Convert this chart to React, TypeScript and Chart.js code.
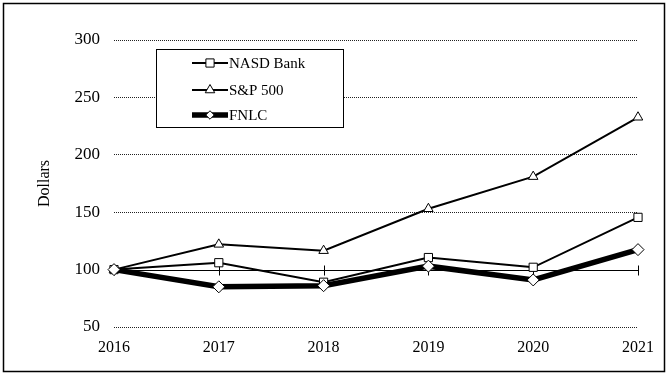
import React, { useEffect, useRef } from "react";
import { Chart, registerables } from "chart.js";

Chart.register(...registerables);

const years = ["2016", "2017", "2018", "2019", "2020", "2021"];
const nasdBank = [100, 106, 89, 110.5, 102, 145.5];
const sp500 = [100, 122, 116.5, 153, 181, 232.7];
const fnlc = [100, 85, 86, 103, 91, 117.4];
const seriesNames = ["NASD Bank", "S&P 500", "FNLC"];
const yTicks = [50, 100, 150, 200, 250, 300];
const yTitle = "Dollars";

const FONT = '"Liberation Serif", "Times New Roman", serif';

function drawMarker(ctx: CanvasRenderingContext2D, style: string, x: number, y: number, r: number) {
  ctx.beginPath();
  if (style === "rect") {
    const s = Math.SQRT1_2 * r;
    ctx.rect(x - s, y - s, 2 * s, 2 * s);
  } else if (style === "triangle") {
    for (let i = 0; i < 3; i++) {
      const a = (i * 2 * Math.PI) / 3;
      const px = x + Math.sin(a) * r;
      const py = y - Math.cos(a) * r;
      if (i === 0) ctx.moveTo(px, py);
      else ctx.lineTo(px, py);
    }
    ctx.closePath();
  } else {
    const s = Math.SQRT1_2 * r;
    ctx.moveTo(x - s, y);
    ctx.lineTo(x, y + s);
    ctx.lineTo(x + s, y);
    ctx.lineTo(x, y - s);
    ctx.closePath();
  }
  ctx.fillStyle = "#fff";
  ctx.fill();
  ctx.strokeStyle = "#000";
  ctx.lineWidth = 1;
  ctx.stroke();
}

const framePlugin = {
  id: "frame",
  beforeDraw(chart: any) {
    const ctx = chart.ctx;
    ctx.save();
    ctx.fillStyle = "#fff";
    ctx.fillRect(0, 0, chart.width, chart.height);
    ctx.restore();
  },
  beforeDatasetsDraw(chart: any) {
    const ctx = chart.ctx;
    const { left, right } = chart.chartArea;
    const yScale = chart.scales.y;
    const xScale = chart.scales.x;
    const y = Math.round(yScale.getPixelForValue(100)) + 0.5;
    ctx.save();
    ctx.strokeStyle = "#000";
    ctx.lineWidth = 1;
    ctx.beginPath();
    ctx.moveTo(left, y);
    ctx.lineTo(right, y);
    for (let i = 0; i < years.length; i++) {
      const x = Math.round(xScale.getPixelForValue(i)) + 0.5;
      ctx.moveTo(x, y - 5);
      ctx.lineTo(x, y + 5);
    }
    ctx.stroke();
    ctx.restore();
  },
  afterDraw(chart: any) {
    const ctx = chart.ctx;
    ctx.save();
    // legend box
    ctx.fillStyle = "#fff";
    ctx.fillRect(156, 49, 187, 78);
    ctx.strokeStyle = "#000";
    ctx.lineWidth = 1;
    ctx.strokeRect(156.5, 49.5, 187, 78);
    const rows = [63, 90, 115];
    chart.data.datasets.forEach((ds: any, i: number) => {
      const ry = rows[i];
      ctx.strokeStyle = "#000";
      ctx.lineWidth = ds.borderWidth;
      ctx.lineCap = "butt";
      ctx.beginPath();
      ctx.moveTo(192, ry);
      ctx.lineTo(228, ry);
      ctx.stroke();
      drawMarker(ctx, ds.pointStyle, 210, ry, ds.pointRadius);
      ctx.fillStyle = "#000";
      ctx.font = `15px ${FONT}`;
      ctx.textBaseline = "middle";
      ctx.textAlign = "left";
      ctx.fillText(ds.label, 229, ry + 1);
    });
    // outer border
    ctx.strokeStyle = "#000";
    ctx.lineWidth = 1.5;
    ctx.strokeRect(3.5, 3.5, 661, 368);
    ctx.restore();
  },
};

export default function App() {
  const ref = useRef<HTMLCanvasElement>(null);
  useEffect(() => {
    if (!ref.current) return;
    const chart = new Chart(ref.current, {
      type: "line",
      data: {
        labels: years,
        datasets: [
          {
            label: seriesNames[0],
            data: nasdBank,
            borderColor: "#000",
            borderWidth: 2,
            pointStyle: "rect",
            pointRadius: 5.8,
            pointBackgroundColor: "#fff",
            pointBorderColor: "#000",
            pointBorderWidth: 1,
            tension: 0,
            order: 3,
          },
          {
            label: seriesNames[1],
            data: sp500,
            borderColor: "#000",
            borderWidth: 2,
            pointStyle: "triangle",
            pointRadius: 5.5,
            pointBackgroundColor: "#fff",
            pointBorderColor: "#000",
            pointBorderWidth: 1,
            tension: 0,
            order: 2,
          },
          {
            label: seriesNames[2],
            data: fnlc,
            borderColor: "#000",
            borderWidth: 5.5,
            pointStyle: "rectRot",
            pointRadius: 6,
            pointBackgroundColor: "#fff",
            pointBorderColor: "#000",
            pointBorderWidth: 1,
            tension: 0,
            order: 1,
          },
        ] as any,
      },
      options: {
        responsive: false,
        animation: false,
        devicePixelRatio: 1,
        layout: { padding: { left: 0, right: 32, top: 40, bottom: 0 } },
        plugins: {
          legend: { display: false },
          tooltip: { enabled: false },
        },
        scales: {
          x: {
            type: "category",
            offset: false,
            grid: { display: false, drawTicks: false },
            border: { display: false },
            ticks: {
              font: { family: FONT, size: 16 },
              color: "#000",
              padding: 11,
              maxRotation: 0,
              autoSkip: false,
            },
            afterFit: (s: any) => {
              s.height = 50;
            },
          },
          y: {
            min: yTicks[0],
            max: yTicks[yTicks.length - 1],
            afterBuildTicks: (s: any) => {
              s.ticks = yTicks.map((v) => ({ value: v }));
            },
            ticks: {
              font: { family: FONT, size: 17 },
              color: "#000",
              padding: 14,
            },
            grid: {
              color: (c: any) => (c.tick && c.tick.value === 100 ? "rgba(0,0,0,0)" : "#222"),
              lineWidth: 1,
              drawTicks: false,
            },
            border: { display: false, dash: [1, 1] },
            title: {
              display: true,
              text: yTitle,
              font: { family: FONT, size: 16 },
              color: "#000",
              padding: { top: 35, bottom: 0 },
            },
            afterFit: (s: any) => {
              s.width = 114;
            },
          },
        },
      } as any,
      plugins: [framePlugin],
    });
    return () => chart.destroy();
  }, []);
  return (
    <div style={{ position: "fixed", left: 0, top: 0, width: 670, height: 377, background: "#fff" }}>
      <canvas ref={ref} width={670} height={377} style={{ display: "block", width: 670, height: 377 }} />
    </div>
  );
}
